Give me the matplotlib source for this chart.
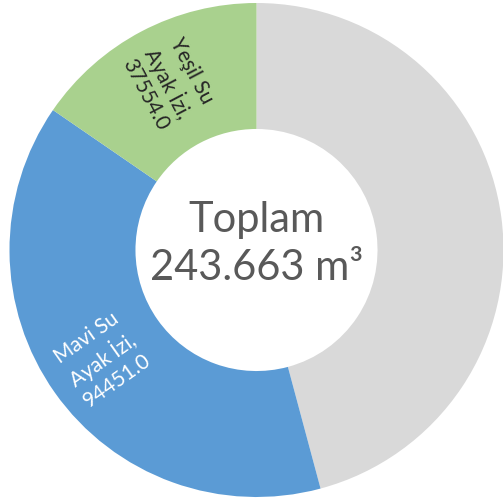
import matplotlib.pyplot as plt
import numpy as np

labels = ["Gri Su Ayak İzi", "Mavi Su Ayak İzi", "Yeşil Su Ayak İzi"]
values = [111658.0, 94451.0, 37554.0]
colors = ["#D9D9D9", "#5B9BD5", "#A9D18E"]
text_colors = [None, "white", "#262626"]
show_label = [False, True, True]
total_text = "Toplam\n243.663 m³"

plt.rcParams["font.family"] = ["Lato", "DejaVu Sans"]

fig = plt.figure(figsize=(5.03, 5.01), dpi=100)
ax = fig.add_axes([0, 0, 1, 1])

cx, cy, R = 256.5, 251, 247
wedges, _ = ax.pie(values, colors=colors, startangle=90, counterclock=False,
                   radius=R, center=(cx, cy), frame=True,
                   wedgeprops=dict(width=R * 0.51, linewidth=0))
ax.set_xlim(0, 503)
ax.set_ylim(0, 501)
ax.set_aspect("equal")
ax.axis("off")

# etiketler dilimin ortasında, yarıçap yönünde döndürülmüş
for w, lab, val, tc, show in zip(wedges, labels, values, text_colors, show_label):
    if not show:
        continue
    mid_deg = (w.theta1 + w.theta2) / 2
    mid = np.deg2rad(mid_deg)
    r = R * 0.765
    x, y = cx + r * np.cos(mid), cy + r * np.sin(mid)
    rot = mid_deg
    while rot > 90:
        rot -= 180
    while rot < -90:
        rot += 180
    name = lab.replace(" Su ", " Su\n")
    ax.text(x, y, f"{name},\n{val:.1f}", ha="center", va="center",
            rotation=rot, rotation_mode="anchor", color=tc,
            fontsize=15, linespacing=1.25, multialignment="center")

ax.text(cx, cy + 6, total_text, ha="center", va="center", color="#595959",
        fontsize=30, linespacing=1.35)

fig.savefig("out.png", dpi=100)
